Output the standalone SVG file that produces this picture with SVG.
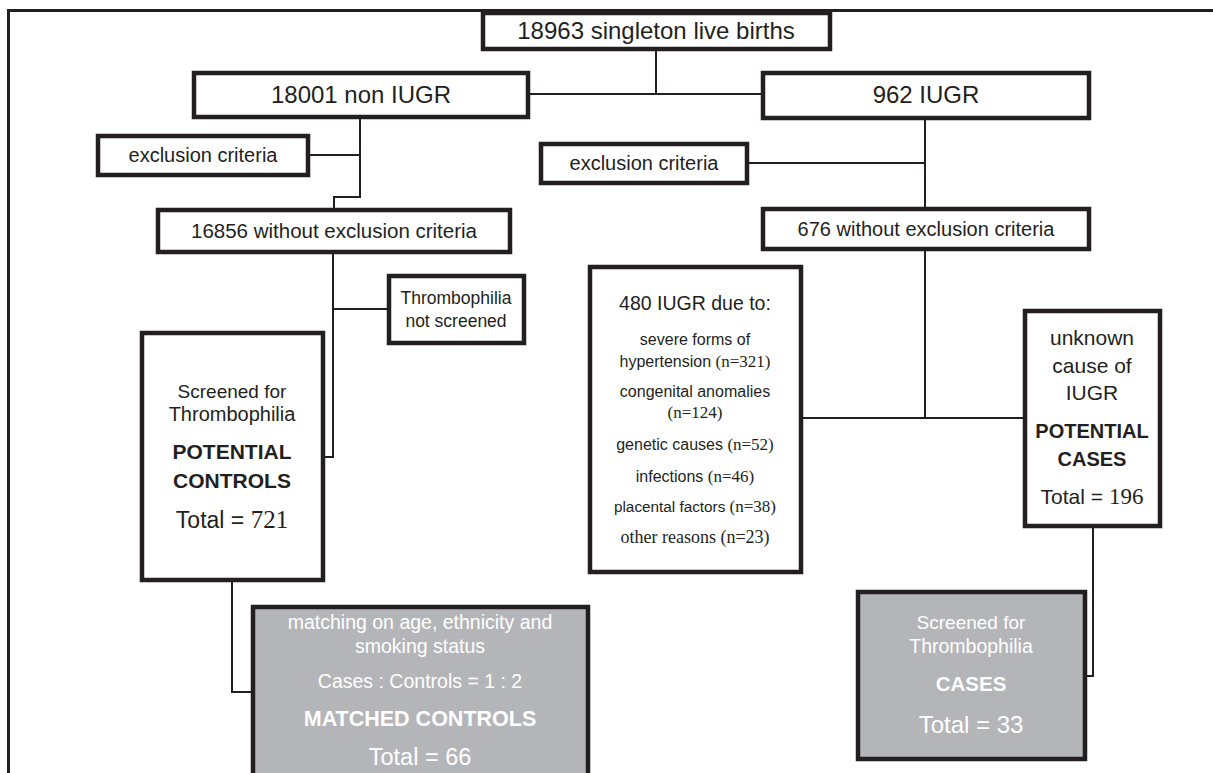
<svg xmlns="http://www.w3.org/2000/svg" width="1213" height="773" viewBox="0 0 1213 773">
<style>
.box{fill:#fff;stroke:#231f20;stroke-width:4.5}
.gbox{fill:#b4b5b8;stroke:#231f20;stroke-width:4.5}
.con{fill:none;stroke:#231f20;stroke-width:2}
.frame{fill:none;stroke:#231f20;stroke-width:3}
text{font-family:"Liberation Sans",Arial,sans-serif;fill:#231f20;text-anchor:middle}
.w{fill:#fff}
.b{font-weight:bold}
.s{font-family:"Liberation Serif","Times New Roman",serif}
</style>
<rect width="1213" height="773" fill="#fff"/>
<path class="frame" d="M1213,10.5 H8.5 V773"/>
<g id="connectors">
<path class="con" d="M656,49 V94 M528,94 H763"/>
<path class="con" d="M360,117 V197 H334 V210 M308,155 H360"/>
<path class="con" d="M333,252 V457 H323 M333,309 H389"/>
<path class="con" d="M232,580 V692 H253"/>
<path class="con" d="M925,118 V208 M747,163 H925"/>
<path class="con" d="M925,249 V418 M801,418 H1025"/>
<path class="con" d="M1093,526 V676 H1085"/>
</g>
<g id="n_births">
<rect class="box" x="483" y="13" width="347" height="36"/>
<text x="656" y="39" font-size="24">18963 singleton live births</text>
</g>
<g id="n_nonIUGR">
<rect class="box" x="194" y="73" width="334" height="44"/>
<text x="361" y="103" font-size="24">18001 non IUGR</text>
</g>
<g id="n_IUGR">
<rect class="box" x="763" y="73" width="326" height="45"/>
<text x="926" y="103" font-size="24">962 IUGR</text>
</g>
<g id="n_excl_left">
<rect class="box" x="98" y="136" width="210" height="39"/>
<text x="203" y="162" font-size="20">exclusion criteria</text>
</g>
<g id="n_excl_right">
<rect class="box" x="541" y="144" width="206" height="39"/>
<text x="644" y="170" font-size="20">exclusion criteria</text>
</g>
<g id="n_16856">
<rect class="box" x="158" y="210" width="352" height="42"/>
<text x="334" y="238" font-size="20.5">16856 without exclusion criteria</text>
</g>
<g id="n_676">
<rect class="box" x="763" y="209" width="326" height="40"/>
<text x="926" y="236" font-size="20">676  without exclusion criteria</text>
</g>
<g id="n_notscreened">
<rect class="box" x="389" y="276" width="135" height="67"/>
<text x="456" y="304" font-size="17.5">Thrombophilia</text>
<text x="456" y="327" font-size="17.5">not screened</text>
</g>
<g id="n_potential_controls">
<rect class="box" x="142" y="333" width="181" height="247"/>
<text x="232" y="398" font-size="19">Screened for</text>
<text x="232" y="421" font-size="20">Thrombophilia</text>
<text class="b" x="232" y="459" font-size="21">POTENTIAL</text>
<text class="b" x="232" y="488" font-size="21">CONTROLS</text>
<text x="232" y="528" font-size="23">Total = <tspan class="s" font-size="25">721</tspan></text>
</g>
<g id="n_480">
<rect class="box" x="590" y="267" width="211" height="305"/>
<text x="695" y="310" font-size="19.5">480 IUGR due to:</text>
<text x="695" y="345" font-size="16">severe forms of</text>
<text x="695" y="367" font-size="16">hypertension  <tspan class="s" font-size="17">(n=321)</tspan></text>
<text x="695" y="397" font-size="16">congenital anomalies</text>
<text x="695" y="418" font-size="17" class="s">(n=124)</text>
<text x="695" y="450" font-size="16">genetic causes <tspan class="s" font-size="17">(n=52)</tspan></text>
<text x="695" y="482" font-size="16">infections <tspan class="s" font-size="17">(n=46)</tspan></text>
<text x="695" y="512" font-size="15.3">placental factors <tspan class="s" font-size="17">(n=38)</tspan></text>
<text x="695" y="543" font-size="18" class="s">other reasons (n=23)</text>
</g>
<g id="n_potential_cases">
<rect class="box" x="1025" y="311" width="135" height="215"/>
<text x="1092" y="345" font-size="21">unknown</text>
<text x="1092" y="373" font-size="21">cause of</text>
<text x="1092" y="400" font-size="21">IUGR</text>
<text class="b" x="1092" y="438" font-size="20">POTENTIAL</text>
<text class="b" x="1092" y="466" font-size="20">CASES</text>
<text x="1092" y="504" font-size="21">Total = <tspan class="s" font-size="23">196</tspan></text>
</g>
<g id="n_matched_controls">
<rect class="gbox" x="253" y="607" width="335" height="180"/>
<text class="w" x="420" y="629" font-size="19.5">matching on age, ethnicity and</text>
<text class="w" x="420" y="653" font-size="19.5">smoking status</text>
<text class="w" x="420" y="688" font-size="19.5">Cases : Controls = 1 : 2</text>
<text class="w b" x="420" y="726" font-size="21.5">MATCHED CONTROLS</text>
<text class="w" x="420" y="765" font-size="23.5">Total = 66</text>
</g>
<g id="n_cases">
<rect class="gbox" x="858" y="592" width="227" height="167"/>
<text class="w" x="971" y="629" font-size="19">Screened for</text>
<text class="w" x="971" y="653" font-size="19.5">Thrombophilia</text>
<text class="w b" x="971" y="691" font-size="20.5">CASES</text>
<text class="w" x="971" y="733" font-size="24">Total = 33</text>
</g>
</svg>
